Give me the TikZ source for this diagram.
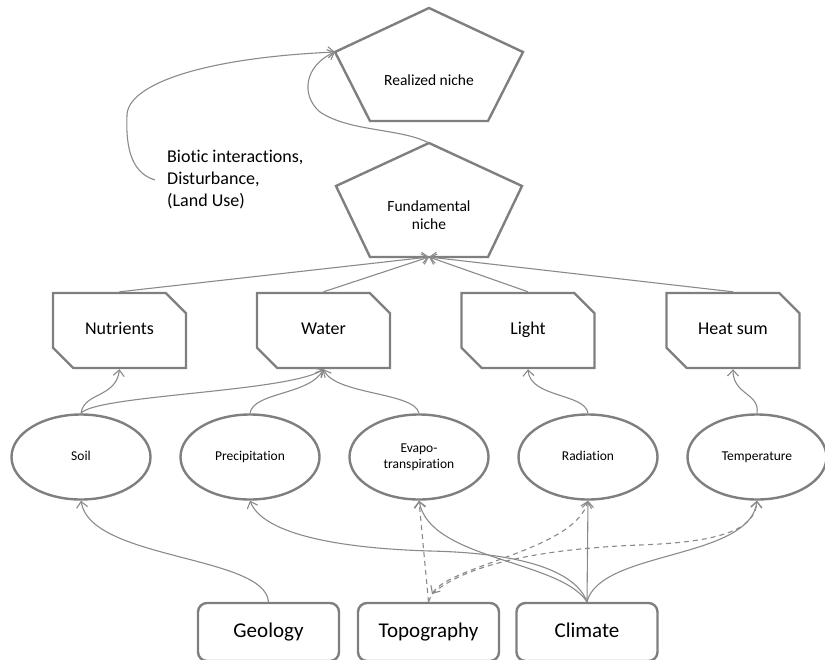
\documentclass[tikz,border=0pt]{standalone}
\usepackage{fontspec}
\setmainfont{Carlito}[Ligatures=NoCommon]
\usetikzlibrary{shapes.geometric,shapes.misc,arrows.meta,calc}
\definecolor{edgegray}{HTML}{7F7F7F}
\definecolor{linkgray}{HTML}{8A8A8A}
\begin{document}
\begin{tikzpicture}[x=1pt,y=-1pt,
  shapeline/.style={draw=edgegray,line width=2.4pt},
  nichetext/.style={font=\fontsize{15.5}{18}\selectfont,align=center,inner sep=0pt},
  factor/.style={shapeline,chamfered rectangle,
    chamfered rectangle corners={north east,south west},
    chamfered rectangle xsep=12pt,chamfered rectangle ysep=12pt,
    minimum width=133pt,minimum height=75pt,inner sep=0pt,
    text height=12.5pt,text depth=4pt,
    font=\fontsize{18}{22}\selectfont},
  driver/.style={shapeline,ellipse,minimum width=139pt,minimum height=85pt,
    inner sep=0pt,align=center,font=\fontsize{13.5}{16}\selectfont},
  oneline/.style={text height=9.5pt,text depth=3pt},
  source/.style={shapeline,rectangle,rounded corners=9pt,minimum width=141pt,
    minimum height=58pt,inner sep=0pt,text height=14.5pt,text depth=4.5pt,
    font=\fontsize{21}{24}\selectfont},
  link/.style={draw=linkgray,line width=1.1pt,
    -{Straight Barb[length=6pt,width=11pt,line width=1.1pt]}},
  plain/.style={draw=linkgray,line width=1.1pt},
  dashlink/.style={link,dash pattern=on 5pt off 4pt}
]
\useasboundingbox (0,0) rectangle (825,659);

% ---- niches (flattened pentagons)
\coordinate (rtop) at (429,8);
\coordinate (rleft) at (335,52);
\coordinate (rright) at (523,52);
\coordinate (rbl) at (370,121);
\coordinate (rbr) at (488,121);
\draw[shapeline] (rtop) -- (rright) -- (rbr) -- (rbl) -- (rleft) -- cycle;
\node[nichetext] (real) at (429,80) {Realized niche};

\coordinate (ftop) at (429,143);
\coordinate (fleft) at (336,186);
\coordinate (fright) at (522,186);
\coordinate (fbl) at (370,257);
\coordinate (fbr) at (488,257);
\coordinate (fbot) at (429,257);
\draw[shapeline] (ftop) -- (fright) -- (fbr) -- (fbl) -- (fleft) -- cycle;
\node[nichetext] (fund) at (429,215) {Fundamental\\niche};

% ---- resources
\node[factor] (nut) at (119.5,330.5) {Nutrients};
\node[factor] (wat) at (323.5,330.5) {Water};
\node[factor] (light) at (528,330.5) {Light};
\node[factor] (heat) at (733,330.5) {Heat sum};

% ---- drivers
\node[driver,oneline] (soil) at (81,457) {Soil};
\node[driver,oneline] (prec) at (250,457) {Precipitation};
\node[driver] (evap) at (419,457) {Evapo-\\transpiration};
\node[driver,oneline] (rad) at (588,457) {Radiation};
\node[driver,oneline] (temp) at (757,457) {Temperature};

% ---- sources
\node[source] (geo) at (268.5,632) {Geology};
\node[source] (topo) at (428.5,632) {Topography};
\node[source] (clim) at (587,632) {Climate};

% ---- biotic filter
\node[anchor=west,align=left,inner xsep=12pt,inner ysep=0pt,
  font=\fontsize{18}{22}\selectfont] (biotic) at (155,180)
  {Biotic interactions,\\Disturbance,\\(Land Use)};

\draw[link] (biotic.west) .. controls (128,172) and (126,140) .. (127,115)
  .. controls (128,85) and (200,58) .. (rleft);
\draw[link] (ftop) .. controls (400,128) and (350,132) .. (320,112)
  .. controls (300,95) and (305,65) .. (rleft);

% ---- resources to fundamental niche
\draw[link] (nut.north) -- (fbot);
\draw[link] (wat.north) -- (fbot);
\draw[link] (light.north) -- (fbot);
\draw[link] (heat.north) -- (fbot);

% ---- drivers to resources
\draw[link] (soil.north) .. controls (84,392) and (116,398) .. (nut.south);
\draw[link] (soil.north) .. controls (95,395) and (290,392) .. (wat.south);
\draw[link] (prec.north) .. controls (253,392) and (310,395) .. (wat.south);
\draw[link] (evap.north) .. controls (415,392) and (335,395) .. (wat.south);
\draw[link] (rad.north) .. controls (585,393) and (530,398) .. (light.south);
\draw[link] (temp.north) .. controls (760,393) and (733,395) .. (heat.south);

% ---- sources to drivers
\draw[link] (geo.north) .. controls (265,555) and (90,560) .. (soil.south);
\draw[link] (clim.north) .. controls (575,570) and (520,553) .. (430,551)
  .. controls (330,548) and (262,532) .. (prec.south);
\draw[link] (clim.north) .. controls (560,560) and (430,560) .. (evap.south);
\draw[link] (clim.north) -- (rad.south);
\draw[link] (clim.north) .. controls (600,550) and (750,560) .. (temp.south);

\coordinate (tsplit) at (432,594);
\draw[dashlink] (topo.north) -- (evap.south);
\draw[dashlink,{Straight Barb[length=6pt,width=11pt,line width=1.1pt]}-{Straight Barb[length=6pt,width=11pt,line width=1.1pt]}]
  (tsplit) .. controls (450,565) and (575,550) .. (rad.south);
\draw[dashlink] (tsplit) .. controls (470,560) and (560,548) .. (640,545)
  .. controls (720,542) and (755,530) .. (temp.south);
\draw[plain,dash pattern=on 5pt off 4pt] (topo.north) -- (tsplit);
\end{tikzpicture}
\end{document}
